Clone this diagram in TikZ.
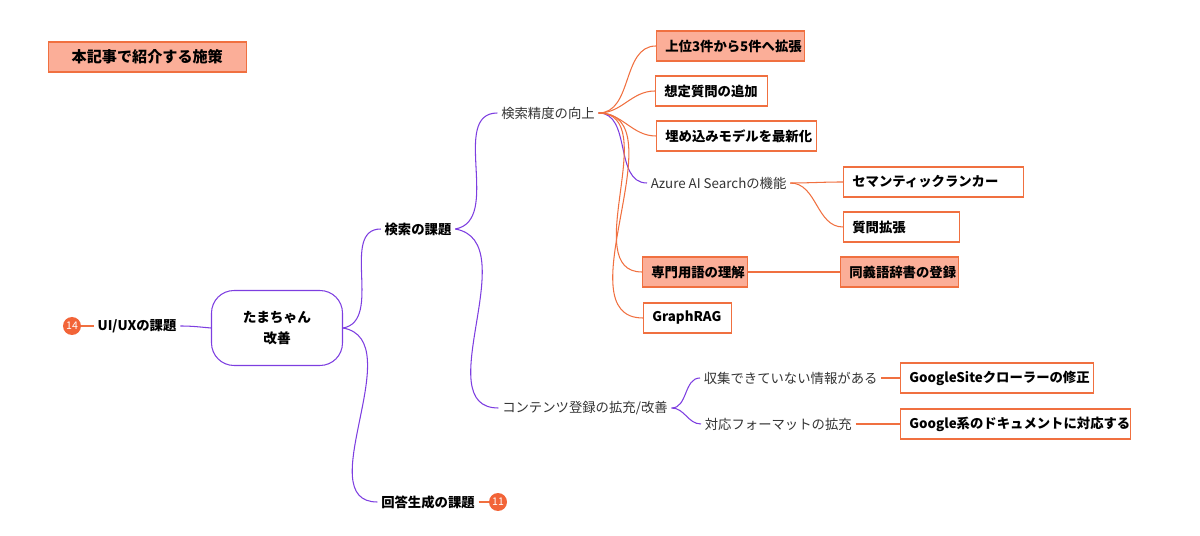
\documentclass[tikz,border=0pt]{standalone}
\usepackage{fontspec}
\setmainfont{Noto Sans CJK JP}
\usepackage{xcolor}
\usetikzlibrary{positioning}
\definecolor{mmpurple}{HTML}{7D3EE0}
\definecolor{mmorange}{HTML}{F07040}
\definecolor{mmfill}{HTML}{FBAE98}
\definecolor{mmbadge}{HTML}{F26438}
\tikzset{
  label text/.style={font=\fontsize{7.6}{9}\selectfont, text=black!80, inner sep=2pt},
  bold text/.style={font=\fontsize{7.6}{9}\selectfont\bfseries, inner sep=2pt},
  box/.style={draw=mmorange, semithick, font=\fontsize{7.6}{9}\selectfont\bfseries, inner xsep=5pt, minimum height=0.6cm, align=left, anchor=west},
  hot/.style={box, fill=mmfill},
  badge/.style={circle, fill=mmbadge, text=white, font=\fontsize{6}{7}\selectfont, inner sep=0pt, minimum size=0.36cm},
  pbranch/.style={draw=mmpurple, semithick},
  obranch/.style={draw=mmorange, semithick}
}
\begin{document}
\begin{tikzpicture}[x=0.02cm, y=-0.02cm]
    \useasboundingbox (0,0) rectangle (1200,536);

    % Title
    \node[hot, text width=3.6cm, align=center, font=\fontsize{8.6}{10}\selectfont\bfseries] (title) at (48,57) {本記事で紹介する施策};

    % Root and first level
    \node[draw=mmpurple, semithick, rounded corners=0.45cm, minimum width=2.62cm, minimum height=1.5cm, align=center, font=\fontsize{7.8}{12}\selectfont\bfseries] (root) at (277,328) {たまちゃん\\改善};
    \node[bold text] (uiux) at (137,326) {UI/UXの課題};
    \node[badge] (b14) at (72,326) {14};
    \node[bold text] (search) at (418,229) {検索の課題};
    \node[bold text] (answer) at (428,502) {回答生成の課題};
    \node[badge] (b11) at (498,502) {11};

    % Second level
    \node[label text] (accuracy) at (548,113) {検索精度の向上};
    \node[label text] (content) at (585,408) {コンテンツ登録の拡充/改善};

    % Measures
    \node[hot, text width=2.6cm] (top5) at (656,46) {上位3件から5件へ拡張};
    \node[box, text width=1.88cm] (query) at (655,91) {想定質問の追加};
    \node[box, text width=2.84cm] (embed) at (656,136) {埋め込みモデルを最新化};
    \node[label text, anchor=west] (azure) at (647,183) {Azure AI Searchの機能};
    \node[box, text width=3.24cm] (ranker) at (843,182) {セマンティックランカー};
    \node[box, text width=1.96cm] (expand) at (843,227) {質問拡張};
    \node[hot, text width=1.74cm] (terms) at (642,272) {専門用語の理解};
    \node[hot, text width=2.0cm] (synonym) at (840,272) {同義語辞書の登録};
    \node[box, text width=1.4cm] (graph) at (643,318) {GraphRAG};
    \node[label text, anchor=west] (missing) at (700,378) {収集できていない情報がある};
    \node[box, text width=3.5cm] (crawler) at (900,378) {GoogleSiteクローラーの修正};
    \node[box, text width=4.25cm] (gdocs) at (900,424) {Google系のドキュメントに対応する};
    \node[label text, anchor=west] (format) at (701,424) {対応フォーマットの拡充};

    % Purple branches
    \draw[pbranch] (root.west) to[out=175,in=0] (uiux.east);
    \draw[pbranch] (root.east) to[out=10,in=180] (search.west);
    \draw[pbranch] (root.east) to[out=-10,in=180] (answer.west);
    \draw[pbranch] (search.east) to[out=10,in=180] (accuracy.west);
    \draw[pbranch] (search.east) to[out=-10,in=180] (content.west);
    \draw[pbranch] (accuracy.east) to[out=0,in=180] (azure.west);
    \draw[pbranch] (content.east) to[out=0,in=180] (missing.west);
    \draw[pbranch] (content.east) to[out=0,in=180] (format.west);

    % Orange branches
    \draw[obranch] (b14) -- (uiux);
    \draw[obranch] (answer) -- (b11);
    \foreach \leaf in {top5, query, embed, terms, graph}
      \draw[obranch] (accuracy.east) to[out=0,in=180] (\leaf.west);
    \draw[obranch] (azure.east) to[out=0,in=180] (ranker.west);
    \draw[obranch] (azure.east) to[out=0,in=180] (expand.west);
    \draw[obranch] (terms) -- (synonym);
    \draw[obranch] (missing) -- (crawler);
    \draw[obranch] (format) -- (gdocs);
\end{tikzpicture}
\end{document}
